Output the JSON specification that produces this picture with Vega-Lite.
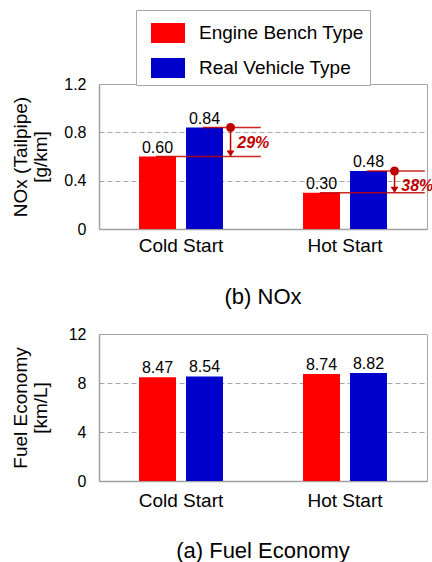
{
  "$schema": "https://vega.github.io/schema/vega-lite/v6.json",
  "padding": {"left": 10, "top": 9, "right": 0, "bottom": 0},
  "background": "white",
  "config": {
    "font": "Liberation Sans",
    "view": {"stroke": "#a6a6a6", "strokeWidth": 1},
    "axis": {"labelColor": "#000", "titleColor": "#000", "domainColor": "#a0a0a0", "domainWidth": 1.5, "ticks": false, "labelFont": "Liberation Sans", "titleFont": "Liberation Sans"},
    "axisY": {"labelFontSize": 16, "labelPadding": 13, "minExtent": 35, "maxExtent": 35, "titleFontSize": 19, "titleFontWeight": "normal", "titleLineHeight": 20, "titlePadding": 14, "gridColor": "#a6a6a6", "gridDash": [5, 3], "gridWidth": 1.2},
    "axisX": {"labelFontSize": 19, "labelAngle": 0, "grid": false, "title": null},
    "title": {"fontSize": 22, "fontWeight": "normal", "color": "#000", "orient": "bottom", "frame": "group", "anchor": "middle"}
  },
  "resolve": {"legend": {"color": "independent"}},
  "spacing": 16,
  "vconcat": [
    {
      "width": 328,
      "height": 145,
      "title": {"text": "(b) NOx", "offset": 32},
      "layer": [
        {
          "data": {"values": [
            {"category": "Cold Start", "series": "Engine Bench Type", "value": 0.60},
            {"category": "Cold Start", "series": "Real Vehicle Type", "value": 0.84},
            {"category": "Hot Start", "series": "Engine Bench Type", "value": 0.30},
            {"category": "Hot Start", "series": "Real Vehicle Type", "value": 0.48}
          ]},
          "layer": [
            {
              "mark": {"type": "bar"},
              "encoding": {
                "x": {"field": "category", "type": "nominal", "scale": {"paddingInner": 0.488, "paddingOuter": 0.244}, "axis": {"labelPadding": 7}},
                "xOffset": {"field": "series", "type": "nominal", "scale": {"paddingInner": 0.213, "paddingOuter": 0}},
                "y": {"field": "value", "type": "quantitative", "scale": {"domain": [0, 1.2]}, "axis": {"values": [0, 0.4, 0.8, 1.2], "labelExpr": "datum.value == 0 ? '0' : format(datum.value, '.1f')", "title": ["NOx (Tailpipe)", "[g/km]"]}},
                "color": {"field": "series", "type": "nominal", "scale": {"domain": ["Engine Bench Type", "Real Vehicle Type"], "range": ["#ff0000", "#0000cc"]},
                  "legend": {"orient": "none", "legendX": 37, "legendY": -74, "direction": "vertical", "title": null, "symbolType": "M-1,-0.59H1V0.59H-1Z", "symbolSize": 1156, "symbolStrokeWidth": 0, "symbolOpacity": 1, "labelFontSize": 19, "labelColor": "#000", "labelOffset": 14, "labelLimit": 300, "rowPadding": 7, "padding": 6, "symbolOffset": 9, "strokeColor": "#a6a6a6", "fillColor": "white", "labelExpr": "datum.label + '    '"}}
              }
            },
            {
              "mark": {"type": "text", "fontSize": 16, "baseline": "alphabetic", "dy": -4, "color": "#000"},
              "encoding": {
                "x": {"field": "category", "type": "nominal"},
                "xOffset": {"field": "series", "type": "nominal"},
                "y": {"field": "value", "type": "quantitative"},
                "text": {"field": "value", "type": "quantitative", "format": ".2f"}
              }
            }
          ]
        },
        {
          "data": {"values": [
            {"category": "Cold Start", "from": 0.84, "to": 0.60, "label": "29%"},
            {"category": "Hot Start", "from": 0.48, "to": 0.30, "label": "38%"}
          ]},
          "layer": [
            {
              "mark": {"type": "rule", "color": "#c00000", "strokeWidth": 1.5, "opacity": 0.85},
              "encoding": {
                "x": {"field": "category", "type": "nominal", "bandPosition": 0.76},
                "x2": {"field": "category", "bandPosition": 1.45},
                "y": {"field": "from", "type": "quantitative"}
              }
            },
            {
              "mark": {"type": "rule", "color": "#c00000", "strokeWidth": 1.5, "opacity": 0.85},
              "encoding": {
                "x": {"field": "category", "type": "nominal", "bandPosition": 0.2},
                "x2": {"field": "category", "bandPosition": 1.45},
                "y": {"field": "to", "type": "quantitative"}
              }
            },
            {
              "mark": {"type": "rule", "color": "#c00000", "strokeWidth": 1.5},
              "encoding": {
                "x": {"field": "category", "type": "nominal", "bandPosition": 1.09},
                "y": {"field": "from", "type": "quantitative"},
                "y2": {"field": "to"}
              }
            },
            {
              "mark": {"type": "point", "shape": "circle", "filled": true, "size": 80, "color": "#c00000", "opacity": 1},
              "encoding": {
                "x": {"field": "category", "type": "nominal", "bandPosition": 1.09},
                "y": {"field": "from", "type": "quantitative"}
              }
            },
            {
              "mark": {"type": "point", "shape": "M-1,-1.5L1,-1.5L0,0Z", "filled": true, "size": 64, "color": "#c00000", "opacity": 1},
              "encoding": {
                "x": {"field": "category", "type": "nominal", "bandPosition": 1.09},
                "y": {"field": "to", "type": "quantitative"}
              }
            },
            {
              "mark": {"type": "text", "fontSize": 16, "fontWeight": "bold", "fontStyle": "italic", "color": "#c00000", "align": "left", "baseline": "middle", "dy": 15},
              "encoding": {
                "x": {"field": "category", "type": "nominal", "bandPosition": 1.17},
                "y": {"field": "from", "type": "quantitative"},
                "text": {"field": "label", "type": "nominal"}
              }
            }
          ]
        }
      ]
    },
    {
      "width": 328,
      "height": 147,
      "title": {"text": "(a) Fuel Economy", "offset": 31},
      "data": {"values": [
        {"category": "Cold Start", "series": "Engine Bench Type", "value": 8.47},
        {"category": "Cold Start", "series": "Real Vehicle Type", "value": 8.54},
        {"category": "Hot Start", "series": "Engine Bench Type", "value": 8.74},
        {"category": "Hot Start", "series": "Real Vehicle Type", "value": 8.82}
      ]},
      "layer": [
        {
          "mark": {"type": "bar"},
          "encoding": {
            "x": {"field": "category", "type": "nominal", "scale": {"paddingInner": 0.488, "paddingOuter": 0.244}, "axis": {"labelPadding": 10}},
            "xOffset": {"field": "series", "type": "nominal", "scale": {"paddingInner": 0.213, "paddingOuter": 0}},
            "y": {"field": "value", "type": "quantitative", "scale": {"domain": [0, 12]}, "axis": {"values": [0, 4, 8, 12], "title": ["Fuel Economy", "[km/L]"]}},
            "color": {"field": "series", "type": "nominal", "scale": {"domain": ["Engine Bench Type", "Real Vehicle Type"], "range": ["#ff0000", "#0000cc"]}, "legend": null}
          }
        },
        {
          "mark": {"type": "text", "fontSize": 16, "baseline": "alphabetic", "dy": -4, "color": "#000"},
          "encoding": {
            "x": {"field": "category", "type": "nominal"},
            "xOffset": {"field": "series", "type": "nominal"},
            "y": {"field": "value", "type": "quantitative"},
            "text": {"field": "value", "type": "quantitative", "format": ".2f"}
          }
        }
      ]
    }
  ]
}
